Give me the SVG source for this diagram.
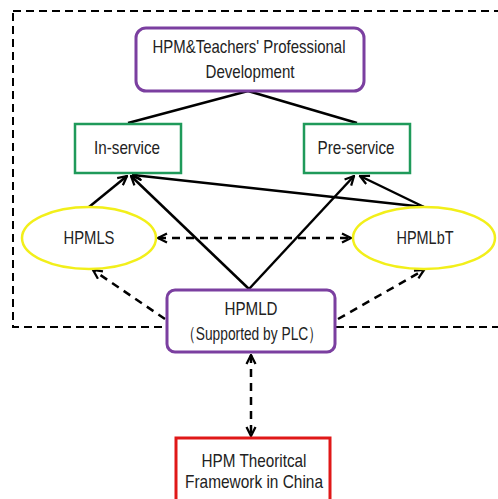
<svg xmlns="http://www.w3.org/2000/svg" width="498" height="499" viewBox="0 0 498 499">
<style>
text{font-family:"Liberation Sans",Arial,sans-serif;font-size:19px;fill:#222;text-anchor:middle}
.ln{stroke:#000;stroke-width:2.5;fill:none}
.dl{stroke:#000;stroke-width:2.5;fill:none;stroke-dasharray:8 6}
.pur{fill:#fff;stroke:#7b3fa0;stroke-width:3}
.grn{fill:#fff;stroke:#1f9a5a;stroke-width:2.5}
.yel{fill:#fff;stroke:#f2ef1a;stroke-width:2.5}
.red{fill:#fff;stroke:#e01818;stroke-width:3}
</style>
<defs>
<marker id="ah" viewBox="0 0 10 10" refX="9" refY="5" markerWidth="4.5" markerHeight="4.5" orient="auto-start-reverse" markerUnits="strokeWidth">
<path d="M1,1 L9,5 L1,9" fill="none" stroke="#000" stroke-width="2"/>
</marker>
</defs>
<rect x="13" y="11" width="495" height="316" fill="none" stroke="#000" stroke-width="2" stroke-dasharray="8 5"/>
<g id="connectors">
<line class="ln" x1="248" y1="91" x2="128" y2="123"/>
<line class="ln" x1="248" y1="91" x2="357" y2="123"/>
<line class="ln" x1="89" y1="207" x2="127" y2="176" marker-end="url(#ah)"/>
<line class="ln" x1="249" y1="289" x2="131" y2="176" marker-end="url(#ah)"/>
<line class="ln" x1="249" y1="289" x2="354" y2="176" marker-end="url(#ah)"/>
<line class="ln" x1="424" y1="207" x2="133" y2="175" marker-end="url(#ah)"/>
<line class="ln" x1="424" y1="207" x2="360" y2="176" marker-end="url(#ah)"/>
<line class="dl" x1="158" y1="238" x2="351" y2="238" marker-start="url(#ah)" marker-end="url(#ah)"/>
<line class="dl" x1="165" y1="319" x2="93" y2="270" marker-end="url(#ah)"/>
<line class="dl" x1="338" y1="319" x2="424" y2="270" marker-end="url(#ah)"/>
<line class="dl" x1="251" y1="355" x2="251" y2="436" marker-start="url(#ah)" marker-end="url(#ah)"/>
</g>
<g id="top"><rect class="pur" x="136" y="28" width="228" height="63" rx="10"/>
<text x="249" y="53" textLength="193" lengthAdjust="spacingAndGlyphs">HPM&amp;Teachers' Professional</text><text x="250" y="78" textLength="89" lengthAdjust="spacingAndGlyphs">Development</text></g>
<g id="inservice"><rect class="grn" x="75" y="124" width="106" height="49"/><text x="127" y="154" textLength="66" lengthAdjust="spacingAndGlyphs">In-service</text></g>
<g id="preservice"><rect class="grn" x="304" y="124" width="106" height="49"/><text x="356" y="154" textLength="77" lengthAdjust="spacingAndGlyphs">Pre-service</text></g>
<g id="hpmls"><ellipse class="yel" cx="89" cy="238" rx="67" ry="31"/><text x="89" y="244" textLength="51" lengthAdjust="spacingAndGlyphs">HPMLS</text></g>
<g id="hpmlbt"><ellipse class="yel" cx="424" cy="238" rx="71" ry="31"/><text x="425" y="244" textLength="57" lengthAdjust="spacingAndGlyphs">HPMLbT</text></g>
<g id="hpmld"><rect class="pur" x="167" y="290" width="168" height="62" rx="8"/>
<text x="251" y="315" textLength="53" lengthAdjust="spacingAndGlyphs">HPMLD</text><text x="252" y="340" textLength="140" lengthAdjust="spacingAndGlyphs">（Supported by PLC）</text></g>
<g id="theory"><rect class="red" x="176" y="438" width="154" height="70"/>
<text x="254" y="467" textLength="105" lengthAdjust="spacingAndGlyphs">HPM Theoritcal</text><text x="254" y="488" textLength="138" lengthAdjust="spacingAndGlyphs">Framework in China</text></g>
</svg>
